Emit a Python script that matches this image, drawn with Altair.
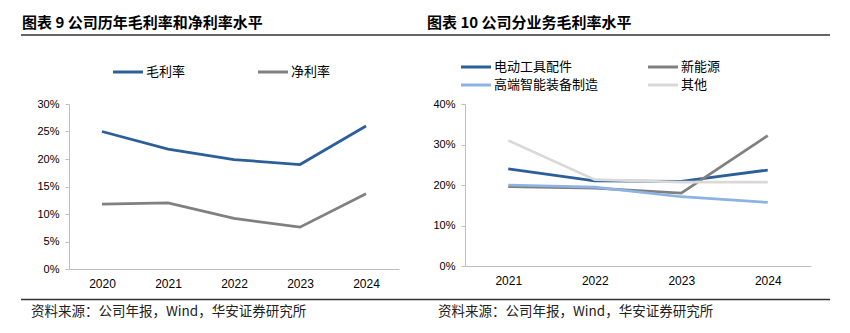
import altair as alt
import pandas as pd

# ---------------- data ----------------
years_a = ["2020", "2021", "2022", "2023", "2024"]
gross_margin = [25.0, 21.8, 19.9, 19.0, 26.0]
net_margin = [11.8, 12.0, 9.2, 7.6, 13.7]
series_a = ["毛利率", "净利率"]
colors_a = ["#2C5F9A", "#808080"]

years_b = ["2021", "2022", "2023", "2024"]
seg_tools = [24.0, 21.0, 20.9, 23.7]
seg_energy = [19.6, 19.2, 18.0, 32.2]
seg_equip = [20.0, 19.5, 17.1, 15.7]
seg_other = [31.0, 21.3, 20.7, 20.7]
series_b = ["电动工具配件", "新能源", "高端智能装备制造", "其他"]
colors_b = ["#2C5F9A", "#808080", "#8DB3E2", "#D9D9D9"]

yticks_a = [0, 0.05, 0.10, 0.15, 0.20, 0.25, 0.30]
yticks_b = [0, 0.10, 0.20, 0.30, 0.40]

title_a = "图表 9 公司历年毛利率和净利率水平"
title_b = "图表 10 公司分业务毛利率水平"
source_text = "资料来源：公司年报，Wind，华安证券研究所"

FONT = "Liberation Sans"
CJK = "Noto Sans CJK SC"
AXIS_GRAY = "#BFBFBF"

df_a = pd.DataFrame(
    [{"year": y, "series": series_a[0], "value": v / 100} for y, v in zip(years_a, gross_margin)]
    + [{"year": y, "series": series_a[1], "value": v / 100} for y, v in zip(years_a, net_margin)]
)
rows_b = []
for name, vals in zip(series_b, [seg_tools, seg_energy, seg_equip, seg_other]):
    rows_b += [{"year": y, "series": name, "value": v / 100} for y, v in zip(years_b, vals)]
df_b = pd.DataFrame(rows_b)

one = pd.DataFrame({"k": [0]})


def lines(df, years, series, colors, ymax, yticks):
    return alt.Chart(df).mark_line(strokeWidth=2.75, clip=False).encode(
        x=alt.X(
            "year:O",
            sort=years,
            scale=alt.Scale(type="point", padding=0.5, domain=years),
            axis=alt.Axis(
                title=None, labelAngle=0, ticks=False, domainColor=AXIS_GRAY,
                domainWidth=1, labelFont=FONT, labelFontSize=12, labelColor="#000",
                labelPadding=9,
            ),
        ),
        y=alt.Y(
            "value:Q",
            scale=alt.Scale(domain=[0, ymax], nice=False, zero=True),
            axis=alt.Axis(
                title=None, values=yticks, format=".0%", grid=False, tickSize=4,
                tickColor=AXIS_GRAY, domainColor=AXIS_GRAY, domainWidth=1,
                labelFont=FONT, labelFontSize=11, labelColor="#000", labelPadding=6,
            ),
        ),
        color=alt.Color("series:N", scale=alt.Scale(domain=series, range=colors), legend=None),
    )


def text(t, x, y, size, weight="normal", color="#000", font=CJK):
    return alt.Chart(pd.DataFrame({"t": [t]})).mark_text(
        align="left", baseline="middle", font=font, fontSize=size,
        fontWeight=weight, color=color,
    ).encode(text="t:N", x=alt.value(x), y=alt.value(y))


def hrule(x1, x2, y, color, width, opacity=1):
    return alt.Chart(one).mark_rule(color=color, strokeWidth=width, opacity=opacity).encode(
        x=alt.value(x1), x2=alt.value(x2), y=alt.value(y)
    )


def legend_item(name, color, x, y):
    return [hrule(x, x + 30, y, color, 3), text(name, x + 33, y, 13)]


# ---------------- left panel (origin at canvas 69,104) ----------------
anchor = alt.Chart(one).mark_rule(opacity=0, strokeOpacity=0).encode(
    x=alt.value(-69), x2=alt.value(781), y=alt.value(-104), y2=alt.value(229)
)

left_layers = [
    anchor,
    text(title_a, -47, -81, 15, "bold"),
    hrule(-48, 356, -69, "#333333", 1.5),
    *legend_item(series_a[0], colors_a[0], 44, -32),
    *legend_item(series_a[1], colors_a[1], 189, -32),
    lines(df_a, years_a, series_a, colors_a, 0.30, yticks_a),
    hrule(-48, 356, 195.5, "#333333", 1.5),
    text(source_text, -38, 208, 13.5, color="#222222"),
]
left = alt.layer(*left_layers).properties(width=330, height=165)

# ---------------- right panel (origin at canvas 465,104) ----------------
right_layers = [
    text(title_b, -38, -81, 15, "bold"),
    hrule(-40, 365, -69, "#333333", 1.5),
    *legend_item(series_b[0], colors_b[0], -4, -37),
    *legend_item(series_b[1], colors_b[1], 183, -37),
    *legend_item(series_b[2], colors_b[2], -4, -19),
    *legend_item(series_b[3], colors_b[3], 183, -19),
    lines(df_b, years_b, series_b, colors_b, 0.40, yticks_b),
    hrule(-40, 365, 195.5, "#333333", 1.5),
    text(source_text, -27, 208, 13.5, color="#222222"),
]
right = alt.layer(*right_layers).properties(width=346, height=162)

chart = (
    alt.hconcat(left, right, spacing=66, bounds="flush")
    .resolve_scale(color="independent", x="independent", y="independent")
    .properties(padding=0, background="white")
    .configure_view(stroke=None)
)

chart.save("out.html", embed_options={"renderer": "svg", "actions": False})
